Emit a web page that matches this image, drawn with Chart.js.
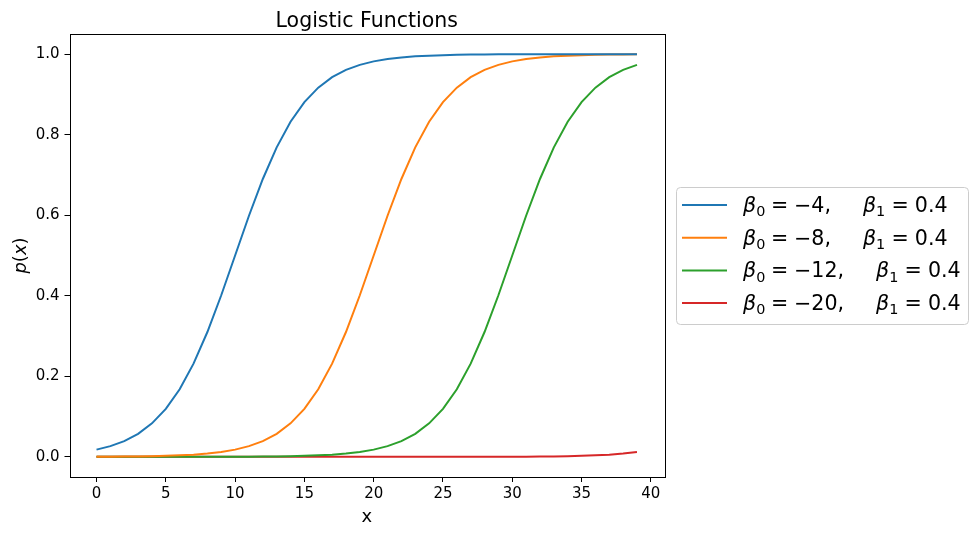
<!DOCTYPE html>
<html>
<head>
<meta charset="utf-8">
<script src="https://cdn.jsdelivr.net/npm/chart.js@4.4.1/dist/chart.umd.min.js"></script>
<style>
  html, body { margin: 0; padding: 0; background: #fff; }
  canvas { display: block; }
</style>
</head>
<body>
<canvas id="logisticChart" width="978" height="536"></canvas>
<script>
// x values 0..39
const xValues = [0, 1, 2, 3, 4, 5, 6, 7, 8, 9, 10, 11, 12, 13, 14, 15, 16, 17, 18, 19,
    20, 21, 22, 23, 24, 25, 26, 27, 28, 29, 30, 31, 32, 33, 34, 35, 36, 37, 38, 39]

// p(x)
const pBeta4 = [0.018, 0.0266, 0.0392, 0.0573, 0.0832, 0.1192, 0.168, 0.2315, 0.31, 0.4013,
    0.5, 0.5987, 0.69, 0.7685, 0.832, 0.8808, 0.9168, 0.9427, 0.9608, 0.9734,
    0.982, 0.9879, 0.9918, 0.9945, 0.9963, 0.9975, 0.9983, 0.9989, 0.9993, 0.9995,
    0.9997, 0.9998, 0.9999, 0.9999, 0.9999, 1.0, 1.0, 1.0, 1.0, 1.0]
const pBeta8 = [0.0003, 0.0005, 0.0007, 0.0011, 0.0017, 0.0025, 0.0037, 0.0055, 0.0082, 0.0121,
    0.018, 0.0266, 0.0392, 0.0573, 0.0832, 0.1192, 0.168, 0.2315, 0.31, 0.4013,
    0.5, 0.5987, 0.69, 0.7685, 0.832, 0.8808, 0.9168, 0.9427, 0.9608, 0.9734,
    0.982, 0.9879, 0.9918, 0.9945, 0.9963, 0.9975, 0.9983, 0.9989, 0.9993, 0.9995]
const pBeta12 = [0.0, 0.0, 0.0, 0.0, 0.0001, 0.0001, 0.0001, 0.0001, 0.0002, 0.0002,
    0.0003, 0.0005, 0.0007, 0.0011, 0.0017, 0.0025, 0.0037, 0.0055, 0.0082, 0.0121,
    0.018, 0.0266, 0.0392, 0.0573, 0.0832, 0.1192, 0.168, 0.2315, 0.31, 0.4013,
    0.5, 0.5987, 0.69, 0.7685, 0.832, 0.8808, 0.9168, 0.9427, 0.9608, 0.9734]
const pBeta20 = [0.0, 0.0, 0.0, 0.0, 0.0, 0.0, 0.0, 0.0, 0.0, 0.0,
    0.0, 0.0, 0.0, 0.0, 0.0, 0.0, 0.0, 0.0, 0.0, 0.0,
    0.0, 0.0, 0.0, 0.0, 0.0, 0.0, 0.0, 0.0001, 0.00015, 0.0002,
    0.0003, 0.0005, 0.0007, 0.0011, 0.0017, 0.0025, 0.0037, 0.0055, 0.0082, 0.0121]

const beta0Labels = ['−4', '−8', '−12', '−20']
const beta1Labels = ['0.4', '0.4', '0.4', '0.4']
const seriesColors = ['#1f77b4', '#ff7f0e', '#2ca02c', '#d62728']

const xTicks = [0, 5, 10, 15, 20, 25, 30, 35, 40]
const yTicks = [0.0, 0.2, 0.4, 0.6, 0.8, 1.0]

const FONT = '"DejaVu Sans", sans-serif'

function toPoints(ys) {
    return ys.map((y, i) => ({ x: xValues[i], y: y }))
}

// draws a run of math-ish segments, returns end x
function drawSegments(ctx, x, y, segs, size) {
    segs.forEach(s => {
        if (s.gap) { x += s.gap * size; return }
        const fs = s.sub ? size * 0.7 : size
        ctx.font = (s.it ? 'italic ' : '') + fs + 'px ' + FONT
        ctx.fillText(s.t, x, s.sub ? y + size * 0.2 : y)
        x += ctx.measureText(s.t).width
    })
    return x
}

const framePlugin = {
    id: 'frame',
    afterDraw(chart) {
        const ctx = chart.ctx
        const a = chart.chartArea
        ctx.save()
        ctx.strokeStyle = '#000'
        ctx.lineWidth = 1
        ctx.strokeRect(Math.round(a.left) + 0.5, Math.round(a.top) + 0.5,
            Math.round(a.right - a.left), Math.round(a.bottom - a.top))

        ctx.fillStyle = '#000'
        ctx.textBaseline = 'alphabetic'
        // title
        ctx.font = '20.5px ' + FONT
        ctx.textAlign = 'center'
        ctx.fillText('Logistic Functions', (a.left + a.right) / 2, 26.5)
        // x label
        ctx.font = '18px ' + FONT
        ctx.fillText('x', (a.left + a.right) / 2, 522)
        // y label p(x), rotated
        ctx.save()
        ctx.translate(26, (a.top + a.bottom) / 2)
        ctx.rotate(-Math.PI / 2)
        ctx.textAlign = 'left'
        const ySegs = [{ t: 'p', it: true }, { t: '(' }, { t: 'x', it: true }, { t: ')' }]
        let w = 0
        ySegs.forEach(s => { ctx.font = (s.it ? 'italic ' : '') + '18px ' + FONT; w += ctx.measureText(s.t).width })
        drawSegments(ctx, -w / 2, 0, ySegs, 18)
        ctx.restore()

        // legend
        const lx = 676, ly = 187, lw = 292, lh = 137
        ctx.beginPath()
        ctx.roundRect(lx + 0.5, ly + 0.5, lw, lh, 4)
        ctx.fillStyle = 'rgba(255,255,255,0.8)'
        ctx.fill()
        ctx.strokeStyle = '#cccccc'
        ctx.stroke()
        ctx.textAlign = 'left'
        beta0Labels.forEach((b0, i) => {
            const rowY = 205 + i * 32.7
            ctx.strokeStyle = seriesColors[i]
            ctx.lineWidth = 2
            ctx.beginPath()
            ctx.moveTo(682, rowY)
            ctx.lineTo(727, rowY)
            ctx.stroke()
            ctx.fillStyle = '#000'
            const segs = [
                { t: 'β', it: true }, { t: '0', sub: true }, { gap: 0.28 }, { t: '=' }, { gap: 0.28 },
                { t: b0 + ',' }, { gap: 1.55 },
                { t: 'β', it: true }, { t: '1', sub: true }, { gap: 0.3 }, { t: '=' }, { gap: 0.3 },
                { t: beta1Labels[i] }
            ]
            drawSegments(ctx, 743, rowY + 7, segs, 20.6)
        })
        ctx.restore()
    }
}

const tickFont = { family: FONT, size: 15 }

new Chart(document.getElementById('logisticChart'), {
    type: 'line',
    data: {
        datasets: [
            { label: 'b0=-4', data: toPoints(pBeta4), borderColor: seriesColors[0] },
            { label: 'b0=-8', data: toPoints(pBeta8), borderColor: seriesColors[1] },
            { label: 'b0=-12', data: toPoints(pBeta12), borderColor: seriesColors[2] },
            { label: 'b0=-20', data: toPoints(pBeta20), borderColor: seriesColors[3] }
        ].map(d => Object.assign(d, { borderWidth: 2, pointRadius: 0, fill: false, tension: 0 }))
    },
    options: {
        responsive: false,
        animation: false,
        devicePixelRatio: 1,
        layout: { padding: { left: 0, top: 34, right: 314, bottom: 0 } },
        plugins: { legend: { display: false }, title: { display: false }, tooltip: { enabled: false } },
        scales: {
            x: {
                type: 'linear',
                min: -1.95,
                max: 40.95,
                afterBuildTicks: s => { s.ticks = xTicks.map(v => ({ value: v })) },
                afterFit: s => { s.height = 59 },
                grid: { drawOnChartArea: false, drawTicks: true, tickLength: 5, color: '#000' },
                border: { display: false },
                ticks: { color: '#000', font: tickFont, padding: 3, maxRotation: 0, callback: v => String(v) }
            },
            y: {
                min: -0.05,
                max: 1.05,
                afterBuildTicks: s => { s.ticks = yTicks.map(v => ({ value: v })) },
                afterFit: s => { s.width = 69.5 },
                grid: { drawOnChartArea: false, drawTicks: true, tickLength: 5, color: '#000' },
                border: { display: false },
                ticks: { color: '#000', font: tickFont, padding: 5, callback: v => v.toFixed(1) }
            }
        }
    },
    plugins: [framePlugin]
})
</script>
</body>
</html>
